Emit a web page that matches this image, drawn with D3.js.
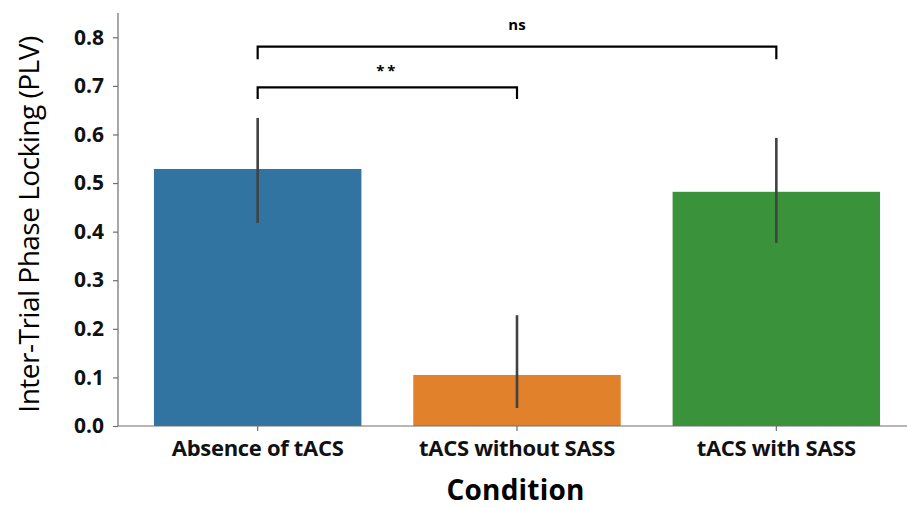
<!DOCTYPE html>
<html>
<head>
<meta charset="utf-8">
<script src="https://cdn.jsdelivr.net/npm/d3@7"></script>
<style>
  html, body { margin: 0; padding: 0; background: #fff; }
  svg { display: block; }
  svg text { font-family: "Open Sans", "DejaVu Sans", sans-serif; }
</style>
</head>
<body>
<svg id="chart" width="907" height="508"></svg>
<script>
// Mean inter-trial phase locking per condition, with confidence interval bounds
const categories = ["Absence of tACS", "tACS without SASS", "tACS with SASS"];
const means = [0.529, 0.105, 0.482];
const ciLow = [0.418, 0.037, 0.377];
const ciHigh = [0.634, 0.228, 0.593];
const colors = ["#3274a1", "#e1812c", "#3a923a"];
const yTicks = [0.0, 0.1, 0.2, 0.3, 0.4, 0.5, 0.6, 0.7, 0.8];
// Pairwise comparisons: [from index, to index, bracket level, tip level, label]
const comparisons = [
  [0, 1, 0.697, 0.673, "**"],
  [0, 2, 0.781, 0.755, "ns"]
];

const svg = d3.select("#chart");
const axisLeft = 118, axisRight = 907;

const x = d3.scaleBand()
  .domain(categories)
  .range([128, 906])
  .paddingInner(0.2)
  .paddingOuter(0.1);

const y = d3.scaleLinear()
  .domain([0, 0.85])
  .range([426, 13]);

// Bars
svg.append("g").selectAll("rect")
  .data(categories)
  .join("rect")
  .attr("x", d => x(d))
  .attr("width", x.bandwidth())
  .attr("y", (d, i) => y(means[i]))
  .attr("height", (d, i) => y(0) - y(means[i]))
  .attr("fill", (d, i) => colors[i]);

// Error bars
svg.append("g").selectAll("line")
  .data(categories)
  .join("line")
  .attr("x1", d => x(d) + x.bandwidth() / 2)
  .attr("x2", d => x(d) + x.bandwidth() / 2)
  .attr("y1", (d, i) => y(ciLow[i]))
  .attr("y2", (d, i) => y(ciHigh[i]))
  .attr("stroke", "#424242")
  .attr("stroke-width", 2.6);

// Y axis
const yAxis = d3.axisLeft(y)
  .tickValues(yTicks)
  .tickFormat(d3.format(".1f"))
  .tickSize(5)
  .tickPadding(9);
const gy = svg.append("g")
  .attr("transform", `translate(${axisLeft},0)`)
  .call(yAxis)
  .attr("font-family", null)
  .attr("font-size", null);
gy.select(".domain").remove();
gy.append("line")
  .attr("x1", 0).attr("x2", 0)
  .attr("y1", y(0)).attr("y2", y(0.85))
  .attr("stroke", "#6e6e6e").attr("stroke-width", 1.2);
gy.selectAll(".tick line").attr("stroke", "#6e6e6e").attr("stroke-width", 1.2);
gy.selectAll(".tick text")
  .attr("fill", "#111")
  .style("font-size", "21px")
  .style("font-weight", "700");

// X axis
const xAxis = d3.axisBottom(x).tickSize(5).tickPadding(9);
const gx = svg.append("g")
  .attr("transform", `translate(0,${y(0)})`)
  .call(xAxis)
  .attr("font-family", null)
  .attr("font-size", null);
gx.select(".domain").remove();
gx.append("line")
  .attr("x1", axisLeft).attr("x2", axisRight)
  .attr("y1", 0).attr("y2", 0)
  .attr("stroke", "#6e6e6e").attr("stroke-width", 1.2);
gx.selectAll(".tick line").attr("stroke", "#6e6e6e").attr("stroke-width", 1.2);
gx.selectAll(".tick text")
  .attr("fill", "#111")
  .style("font-size", "22px")
  .style("font-weight", "700")
  .style("letter-spacing", "-0.3px");

// Significance brackets
const cx = i => x(categories[i]) + x.bandwidth() / 2;
const br = svg.append("g");
comparisons.forEach(([a, b, level, tip, label]) => {
  br.append("path")
    .attr("d", `M${cx(a)},${y(tip)}V${y(level)}H${cx(b)}V${y(tip)}`)
    .attr("fill", "none")
    .attr("stroke", "#000")
    .attr("stroke-width", 2.2);
  // asterisks sit high in the glyph box, so they need less lift than letters
  const stars = /^\*+$/.test(label);
  br.append("text")
    .attr("x", (cx(a) + cx(b)) / 2)
    .attr("y", y(level) - (stars ? 11 : 17))
    .attr("text-anchor", "middle")
    .attr("fill", "#000")
    .style("font-size", "15px")
    .style("font-weight", "700")
    .style("letter-spacing", stars ? "3px" : "0px")
    .text(label);
});

// Axis titles
svg.append("text")
  .attr("transform", `translate(39,${(y(0) + y(0.85)) / 2 + 5}) rotate(-90)`)
  .attr("text-anchor", "middle")
  .attr("fill", "#000")
  .style("font-size", "28px")
  .style("font-weight", "500")
  .style("letter-spacing", "-0.5px")
  .text("Inter-Trial Phase Locking (PLV)");

svg.append("text")
  .attr("x", (axisLeft + axisRight) / 2 + 3)
  .attr("y", 500)
  .attr("text-anchor", "middle")
  .attr("fill", "#000")
  .style("font-size", "28px")
  .style("font-weight", "700")
  .style("letter-spacing", "0.2px")
  .text("Condition");
</script>
</body>
</html>
